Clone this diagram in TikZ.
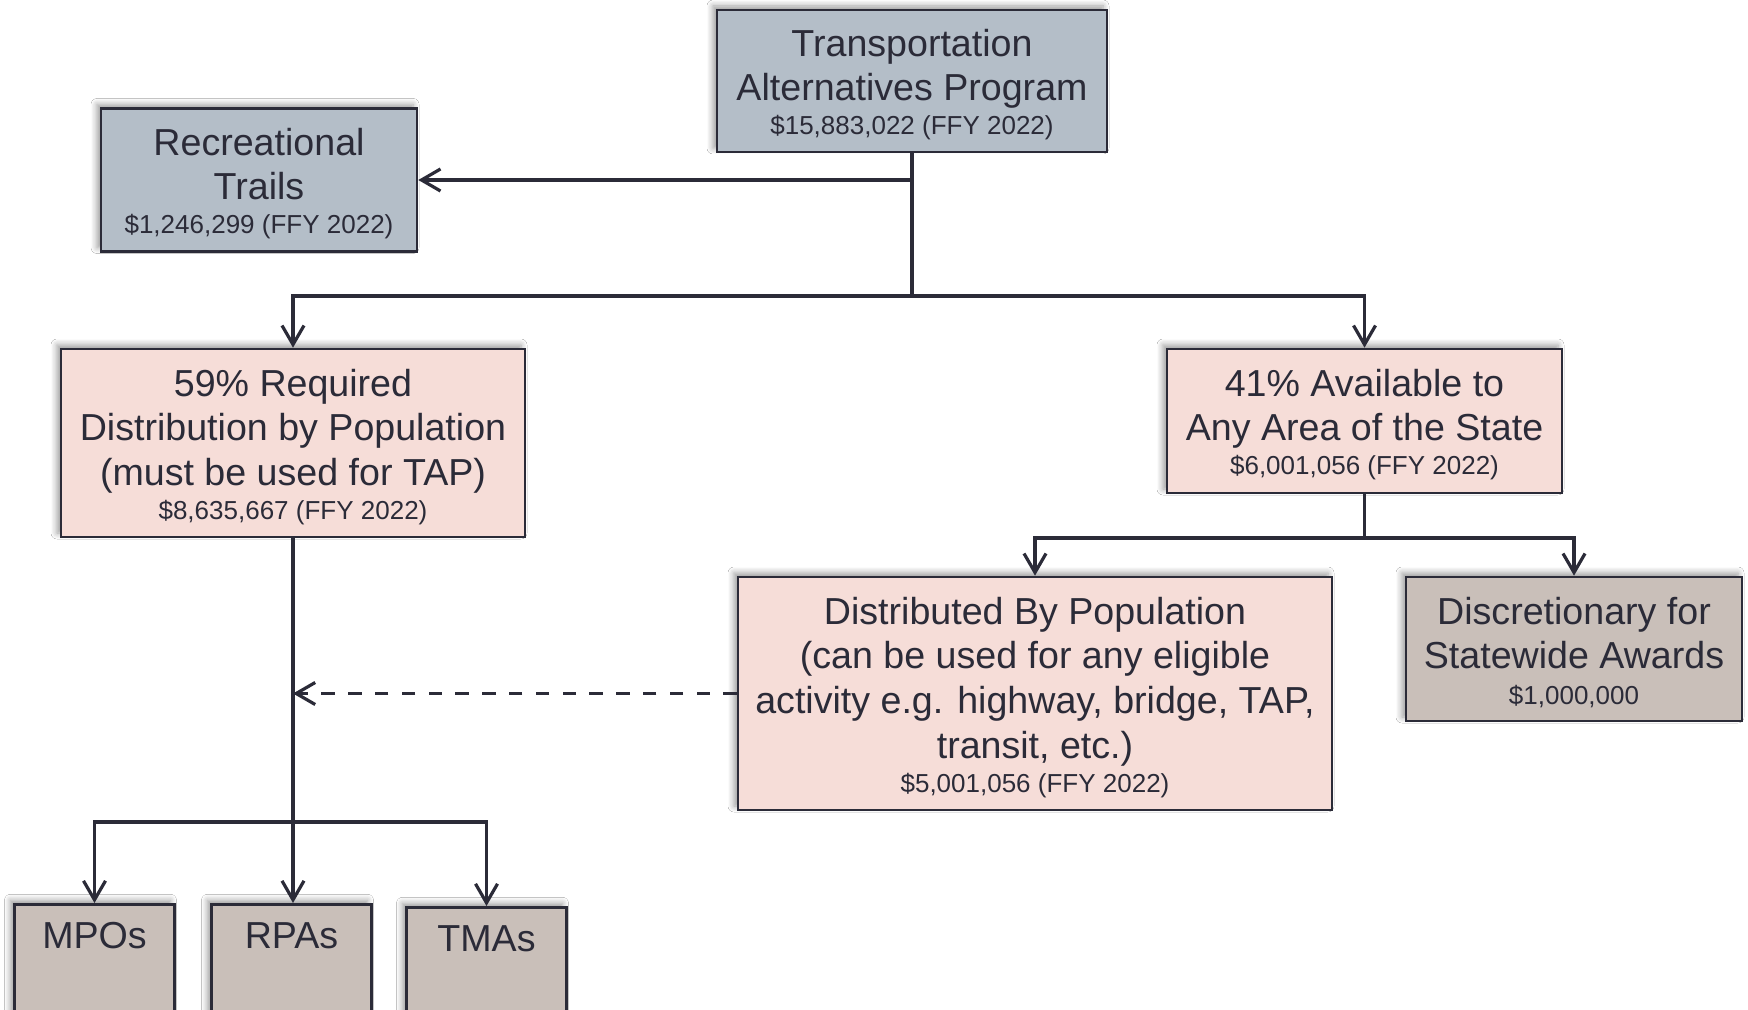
\documentclass[tikz,border=0pt]{standalone}
\usepackage{fontspec}
\setmainfont{Liberation Sans}
\usepackage{xcolor}
\definecolor{ink}{HTML}{2B2B38}
\definecolor{slate}{HTML}{B4BEC8}
\definecolor{blush}{HTML}{F6DDD8}
\definecolor{taupe}{HTML}{C9BFB9}
\usepackage{tikz}
\usetikzlibrary{arrows.meta,positioning,shadows.blur}
\newcommand{\amount}[1]{{\fontsize{13}{14}\selectfont #1}}
\newcommand{\topgap}{\rule{0pt}{17.3pt}}

\begin{document}
\begin{tikzpicture}[
    x=0.5pt, y=-0.5pt,
    every node/.style={align=center, text=ink, font=\fontsize{18.8}{22.3}\selectfont},
    base_box/.style={draw=ink, line width=1.3pt, inner sep=0pt, blur shadow={shadow xshift=-2pt, shadow yshift=2pt, shadow blur radius=3pt, shadow blur steps=6, shadow opacity=40}},
    prog_box/.style={base_box, fill=slate},
    share_box/.style={base_box, fill=blush},
    award_box/.style={base_box, fill=taupe},
    agency_box/.style={award_box, anchor=north, minimum width=80pt, text height=22pt, text depth=62pt},
    fund_flow/.style={-{Straight Barb[length=9.5pt,width=11pt,line width=1.6pt]}, line width=1.6pt, draw=ink},
    swap_flow/.style={fund_flow, dash pattern=on 6.7pt off 6.7pt}
]
  \useasboundingbox (0,0) rectangle (1748,1010);
  \fill[white] (0,0) rectangle (1748,1010);
  \clip (0,0) rectangle (1748,1010);

  % Program and set-aside
  \node[prog_box, minimum width=195pt, minimum height=71pt] (tap) at (912,81) {\topgap Transportation\\Alternatives Program\\[-5.3pt]\amount{\$15,883,022 (FFY 2022)}};
  \node[prog_box, minimum width=158pt, minimum height=71.5pt] (rec) at (259,180) {\topgap Recreational\\Trails\\[-5.3pt]\amount{\$1,246,299 (FFY 2022)}};

  % Population split
  \node[share_box, minimum width=232pt, minimum height=94pt] (req) at (293,443) {\topgap 59\% Required\\Distribution by Population\\(must be used for TAP)\\[-5.3pt]\amount{\$8,635,667 (FFY 2022)}};
  \node[share_box, minimum width=197.5pt, minimum height=72pt] (any) at (1364.5,421) {\topgap 41\% Available to\\Any Area of the State\\[-5.3pt]\amount{\$6,001,056 (FFY 2022)}};
  \node[share_box, minimum width=297pt, minimum height=116.5pt] (dist) at (1035,693.5) {\topgap Distributed By Population\\(can be used for any eligible\\activity e.g. highway, bridge, TAP,\\transit, etc.)\\[-5.3pt]\amount{\$5,001,056 (FFY 2022)}};
  \node[award_box, minimum width=168pt, minimum height=72pt] (disc) at (1574,649) {\topgap Discretionary for\\Statewide Awards\\[-4.3pt]\amount{\$1,000,000}};

  % Receiving agencies
  \node[agency_box] (mpo) at (94.5,903) {MPOs};
  \node[agency_box] (rpa) at (291.5,903) {RPAs};
  \node[agency_box] (tma) at (486.5,906) {TMAs};

  % Rails
  \coordinate (mid_rail) at (0,296);
  \coordinate (right_rail) at (0,538);
  \coordinate (low_rail) at (0,822);

  % Connecting Flows
  \draw[line width=1.6pt, ink] (tap.south) -- (tap.south |- mid_rail);
  \draw[fund_flow] (tap.south |- rec.east) -- (rec.east);
  \draw[fund_flow] (tap.south |- mid_rail) -| (req.north);
  \draw[fund_flow] (tap.south |- mid_rail) -| (any.north);

  \draw[line width=1.6pt, ink] (any.south) -- (any.south |- right_rail);
  \draw[fund_flow] (any.south |- right_rail) -| (dist.north);
  \draw[fund_flow] (any.south |- right_rail) -| (disc.north);

  \draw[fund_flow] (req.south) -- (req.south |- rpa.north);
  \draw[fund_flow] (req.south |- low_rail) -| (mpo.north);
  \draw[fund_flow] (req.south |- low_rail) -| (tma.north);

  \draw[swap_flow] (dist.west) -- (req.south |- dist.west);

\end{tikzpicture}
\end{document}
